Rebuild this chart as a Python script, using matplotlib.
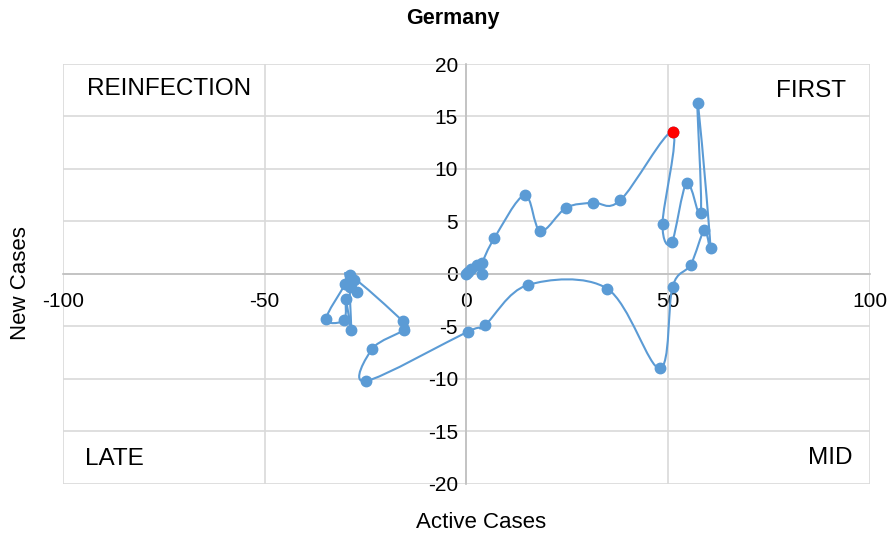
import numpy as np
import matplotlib
matplotlib.use("Agg")
import matplotlib.pyplot as plt
from matplotlib.path import Path
from matplotlib.patches import PathPatch

plt.rcParams["font.family"] = ["Liberation Sans", "DejaVu Sans"]

# trajectory of Germany (active cases, new cases)
active = [0.0, 0.4, 1.2, 2.5, 3.9, 3.9, 6.9, 14.4, 18.3, 24.7, 31.3, 38.1,
          51.1, 48.6, 50.9, 54.6, 58.1, 57.3, 60.5, 59.0, 55.6, 51.1,
          47.9, 34.9, 15.2, 4.5, 0.3, -24.9, -23.3, -15.4, -15.8,
          -28.9, -30.1, -34.8, -30.3, -29.9, -28.6, -28.9, -27.8, -27.2]
new = [0.0, 0.2, 0.5, 0.9, 0.0, 1.0, 3.4, 7.5, 4.1, 6.3, 6.8, 7.0,
       13.5, 4.8, 3.0, 8.7, 5.8, 16.3, 2.5, 4.2, 0.9, -1.2,
       -9.0, -1.4, -1.05, -4.9, -5.5, -10.2, -7.1, -5.3, -4.5,
       -0.1, -1.0, -4.3, -4.4, -2.4, -5.3, -1.2, -0.6, -1.7]
red_idx = 12

x_ticks = [-100, -50, 0, 50, 100]
y_ticks = [-20, -15, -10, -5, 0, 5, 10, 15, 20]

blue = "#5b9bd5"
grid = "#d9d9d9"

fig = plt.figure(figsize=(8.94, 5.41), dpi=100)
ax = fig.add_axes([0.0705, 0.1054, 0.9025, 0.7763])

# smoothed line like Excel (Catmull-Rom as cubic Bezier)
pts = np.column_stack([active, new])
n = len(pts)
verts = [pts[0]]
codes = [Path.MOVETO]
for i in range(n - 1):
    p0 = pts[max(i - 1, 0)]
    p1 = pts[i]
    p2 = pts[i + 1]
    p3 = pts[min(i + 2, n - 1)]
    verts += [p1 + (p2 - p0) / 6, p2 - (p3 - p1) / 6, p2]
    codes += [Path.CURVE4] * 3
ax.add_patch(PathPatch(Path(verts, codes), fill=False, edgecolor=blue, lw=1.5, zorder=3))

ax.plot(active, new, "o", color=blue, ms=7.5, zorder=4)
ax.plot(active[red_idx], new[red_idx], "o", color="red", ms=7.5, zorder=5)

ax.set_xlim(-100, 100)
ax.set_ylim(-20, 20)
ax.set_xticks(x_ticks)
ax.set_yticks(y_ticks)
ax.grid(True, color=grid, lw=1.2, zorder=0)
ax.set_axisbelow(True)

for s in ["top", "right"]:
    ax.spines[s].set_visible(False)
ax.spines["left"].set_position("zero")
ax.spines["bottom"].set_position("zero")
ax.spines["left"].set_color("#bfbfbf")
ax.spines["bottom"].set_color("#bfbfbf")
ax.spines["left"].set_linewidth(1.2)
ax.spines["bottom"].set_linewidth(1.2)
ax.tick_params(length=0, labelsize=15)
ax.tick_params(axis="x", pad=13)
ax.tick_params(axis="y", pad=6)
ax.set_xticklabels([str(v) for v in x_ticks])
ax.set_yticklabels([str(v) for v in y_ticks])

ax.text(0.03, 0.94, "REINFECTION", transform=ax.transAxes, fontsize=17.5, va="center", ha="left")
ax.text(0.97, 0.935, "FIRST", transform=ax.transAxes, fontsize=17.5, va="center", ha="right")
ax.text(0.027, 0.06, "LATE", transform=ax.transAxes, fontsize=17.5, va="center", ha="left")
ax.text(0.978, 0.062, "MID", transform=ax.transAxes, fontsize=17.5, va="center", ha="right")

fig.text(0.507, 0.965, "Germany", fontsize=15.5, fontweight="bold", ha="center", va="center")
fig.text(0.538, 0.035, "Active Cases", fontsize=16, ha="center", va="center")
fig.text(0.023, 0.477, "New Cases", fontsize=16, ha="center", va="center", rotation=90)

fig.savefig("out.png", dpi=100)
